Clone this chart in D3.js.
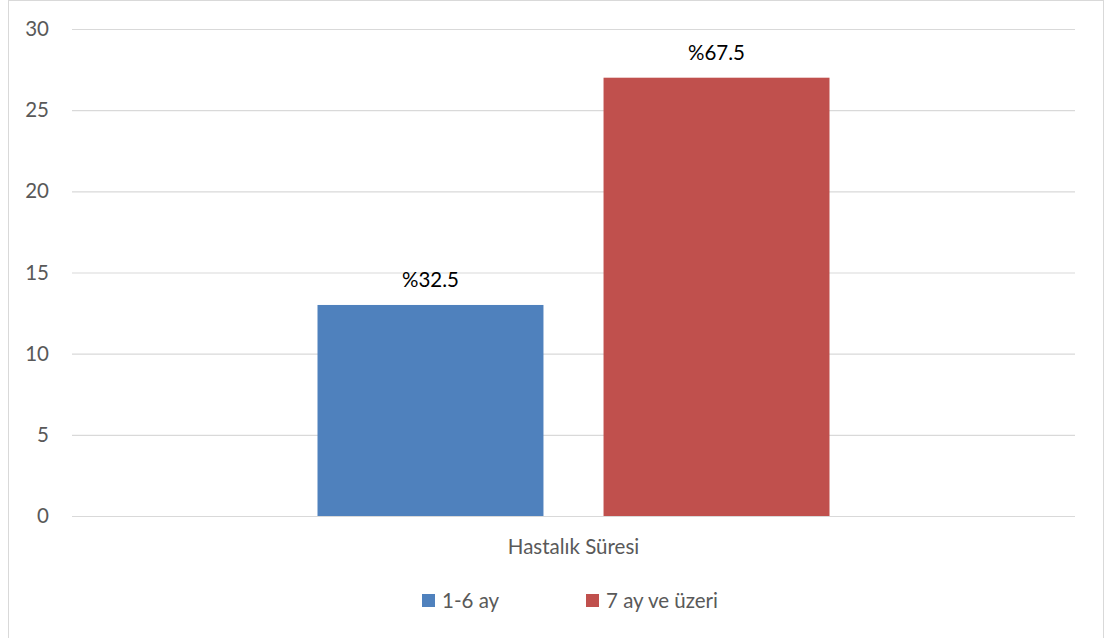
<!DOCTYPE html>
<html>
<head>
<meta charset="utf-8">
<script src="https://cdn.jsdelivr.net/npm/d3@7"></script>
<style>
  html, body { margin: 0; padding: 0; background: #ffffff; }
  svg { display: block; }
  text { font-family: Lato, "Open Sans", "Liberation Sans", sans-serif; }
</style>
</head>
<body>
<svg id="chart" width="1105" height="638"></svg>
<script>
const categories = ["Hastalık Süresi"];
const seriesNames = ["1-6 ay", "7 ay ve üzeri"];
const seriesValues = [13, 27];
const seriesLabels = ["%32.5", "%67.5"];
const seriesColors = ["#4f81bd", "#c0504d"];
const yTicks = [0, 5, 10, 15, 20, 25, 30];

const svg = d3.select("#chart");
const W = 1105, H = 638;
const FS = "20.5px";

// chart border
svg.append("rect")
  .attr("x", 8.5).attr("y", 0.5)
  .attr("width", W - 10).attr("height", H + 10)
  .attr("fill", "#ffffff")
  .attr("stroke", "#d9d9d9").attr("stroke-width", 1);

const plot = { left: 72, right: 1075, top: 29, bottom: 516 };

const y = d3.scaleLinear().domain([0, 30]).range([plot.bottom, plot.top]);
const x0 = d3.scaleBand().domain(categories)
  .range([plot.left, plot.right]).paddingInner(0).paddingOuter(0.4795);
const x1 = d3.scaleBand().domain(seriesNames)
  .range([0, x0.bandwidth()]).paddingInner(0.21).paddingOuter(0);

// gridlines
const yAxis = d3.axisLeft(y).tickValues(yTicks)
  .tickSize(-(plot.right - plot.left)).tickPadding(23).tickFormat(d3.format("d"));
const gy = svg.append("g").attr("transform", `translate(${plot.left},0)`).call(yAxis);
gy.select(".domain").remove();
gy.selectAll(".tick line").attr("stroke", "#d9d9d9").attr("stroke-width", 1.2);
gy.selectAll(".tick text")
  .attr("fill", "#595959")
  .style("font-size", FS);

// bars
const data = seriesNames.map((s, i) => ({ cat: categories[0], name: s, value: seriesValues[i], label: seriesLabels[i], color: seriesColors[i] }));
const g = svg.append("g");
g.selectAll("rect.bar").data(data).join("rect")
  .attr("class", "bar")
  .attr("x", d => x0(d.cat) + x1(d.name))
  .attr("y", d => y(d.value))
  .attr("width", x1.bandwidth())
  .attr("height", d => y(0) - y(d.value))
  .attr("fill", d => d.color);

// data labels
g.selectAll("text.lbl").data(data).join("text")
  .attr("class", "lbl")
  .attr("x", d => x0(d.cat) + x1(d.name) + x1.bandwidth() / 2)
  .attr("y", d => y(d.value) - 18)
  .attr("text-anchor", "middle")
  .attr("fill", "#000000")
  .style("font-size", FS)
  .text(d => d.label);

// category axis label
svg.append("g").selectAll("text").data(categories).join("text")
  .attr("x", d => x0(d) + x0.bandwidth() / 2)
  .attr("y", 554)
  .attr("text-anchor", "middle")
  .attr("fill", "#595959")
  .style("font-size", FS)
  .text(d => d);

// legend
const legendX = [422, 586];
const leg = svg.append("g").selectAll("g").data(data).join("g")
  .attr("transform", (d, i) => `translate(${legendX[i]},594)`);
leg.append("rect").attr("width", 13).attr("height", 13).attr("fill", d => d.color);
leg.append("text").attr("x", 20).attr("y", 13.5)
  .attr("fill", "#595959").style("font-size", FS)
  .text(d => d.name);
</script>
</body>
</html>
